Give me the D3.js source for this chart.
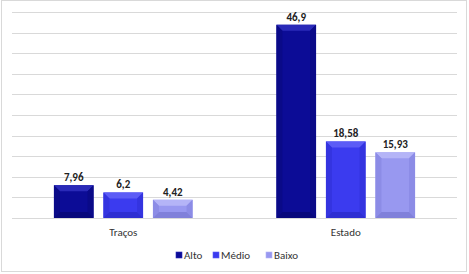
<!DOCTYPE html>
<html>
<head>
<meta charset="utf-8">
<script src="https://cdn.jsdelivr.net/npm/d3@7"></script>
<style>
  body { margin: 0; background: #fff; }
  text { font-family: Carlito, "Open Sans", "Liberation Sans", sans-serif; }
</style>
</head>
<body>
<div id="chart"></div>
<script>
// data
var categories = ["Traços", "Estado"];
var series = ["Alto", "Médio", "Baixo"];
var alto = [7.96, 46.9];
var medio = [6.2, 18.58];
var baixo = [4.42, 15.93];
var valueLabels = [["7,96", "6,2", "4,42"], ["46,9", "18,58", "15,93"]];
var yTicks = d3.range(0, 51, 5);

var svgWidth = 469;
var svgHeight = 274;

var margin = { top: 12, right: 12, bottom: 56, left: 12 };

var svg = d3.select("#chart")
  .append("svg")
  .attr("width", svgWidth)
  .attr("height", svgHeight);

// outer frame
svg.append("rect")
  .attr("x", 1.5)
  .attr("y", 0.5)
  .attr("width", 465)
  .attr("height", 271)
  .attr("fill", "#fff")
  .attr("stroke", "#d9d9d9");

var x0 = d3.scaleBand()
  .domain(categories)
  .range([margin.left, svgWidth - margin.right]);

var groupW = x0.bandwidth() * 0.623;
var x1 = d3.scaleBand()
  .domain(series)
  .range([-groupW / 2, groupW / 2])
  .paddingInner(0.2);

var y = d3.scaleLinear()
  .domain([0, 50])
  .range([svgHeight - margin.bottom, margin.top]);

// gridlines
svg.append("g")
  .selectAll("line")
  .data(yTicks)
  .enter()
  .append("line")
  .attr("x1", margin.left)
  .attr("x2", svgWidth - margin.right)
  .attr("y1", d => Math.round(y(d)) + 0.5)
  .attr("y2", d => Math.round(y(d)) + 0.5)
  .attr("stroke", "#d9d9d9")
  .attr("stroke-width", 1.2);

var colors = {
  "Alto":  { base: "#0c0c96", top: "#2a2ab8", side: "#0a0a88", bottom: "#08087c" },
  "Médio": { base: "#3b3bef", top: "#5c5cf6", side: "#3434e0", bottom: "#2e2ed2" },
  "Baixo": { base: "#9898f0", top: "#b4b4f7", side: "#8c8ce6", bottom: "#8080da" }
};

var rows = [];
categories.forEach(function(c, i) {
  rows.push({ cat: c, s: "Alto", v: alto[i], label: valueLabels[i][0] });
  rows.push({ cat: c, s: "Médio", v: medio[i], label: valueLabels[i][1] });
  rows.push({ cat: c, s: "Baixo", v: baixo[i], label: valueLabels[i][2] });
});

var barsGroup = svg.append("g");

rows.forEach(function(d) {
  var bx = x0(d.cat) + x0.bandwidth() / 2 + x1(d.s);
  var bw = x1.bandwidth();
  var by = y(d.v);
  var bh = y(0) - by;
  var c = colors[d.s];
  var b = Math.min(6, bh / 2, bw / 2);
  var g = barsGroup.append("g");

  g.append("rect")
    .attr("x", bx).attr("y", by)
    .attr("width", bw).attr("height", bh)
    .attr("fill", c.base);

  // bevel: top
  g.append("polygon")
    .attr("points", [[bx, by], [bx + bw, by], [bx + bw - b, by + b], [bx + b, by + b]].join(" "))
    .attr("fill", c.top);
  // left & right
  g.append("polygon")
    .attr("points", [[bx, by], [bx + b, by + b], [bx + b, by + bh - b], [bx, by + bh]].join(" "))
    .attr("fill", c.side);
  g.append("polygon")
    .attr("points", [[bx + bw, by], [bx + bw - b, by + b], [bx + bw - b, by + bh - b], [bx + bw, by + bh]].join(" "))
    .attr("fill", c.side);
  // bottom
  g.append("polygon")
    .attr("points", [[bx, by + bh], [bx + b, by + bh - b], [bx + bw - b, by + bh - b], [bx + bw, by + bh]].join(" "))
    .attr("fill", c.bottom);

  // value label
  svg.append("text")
    .attr("x", bx + bw / 2)
    .attr("y", by - 4)
    .attr("text-anchor", "middle")
    .attr("font-size", "11px")
    .attr("font-weight", "bold")
    .attr("fill", "#222")
    .text(d.label);
});

// category labels
svg.append("g")
  .selectAll("text")
  .data(categories)
  .enter()
  .append("text")
  .attr("x", d => x0(d) + x0.bandwidth() / 2)
  .attr("y", y(0) + 18)
  .attr("text-anchor", "middle")
  .attr("font-size", "11px")
  .attr("fill", "#333")
  .text(d => d);

// legend
var legendX = [176, 213, 266];
var legend = svg.append("g");
series.forEach(function(s, i) {
  legend.append("rect")
    .attr("x", legendX[i])
    .attr("y", 252)
    .attr("width", 6)
    .attr("height", 6)
    .attr("fill", colors[s].base)
    .attr("stroke", colors[s].top)
    .attr("stroke-width", 0.6);
  legend.append("text")
    .attr("x", legendX[i] + 8)
    .attr("y", 259)
    .attr("font-size", "11px")
    .attr("fill", "#333")
    .text(s);
});
</script>
</body>
</html>
